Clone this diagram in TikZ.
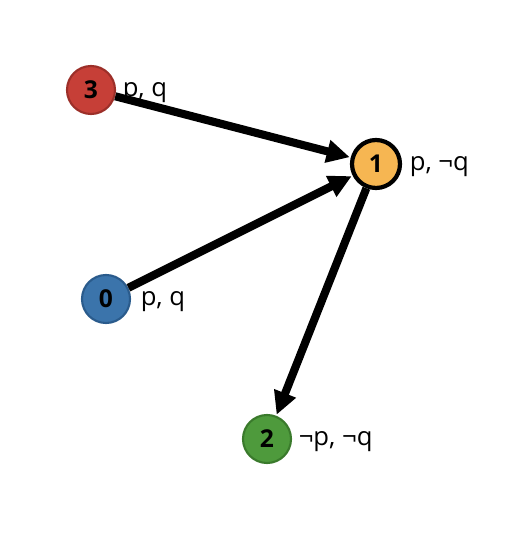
\documentclass[tikz,border=0pt]{standalone}
\usepackage{fontspec}
\setmainfont{Open Sans}
\usepackage{xcolor}
\usepackage{tikz}
\usetikzlibrary{arrows.meta,positioning}

\definecolor{wred}{HTML}{C63F37}
\definecolor{wredd}{HTML}{9C2F29}
\definecolor{worange}{HTML}{F6B652}
\definecolor{wblue}{HTML}{3B74AB}
\definecolor{wblued}{HTML}{2A5B8C}
\definecolor{wgreen}{HTML}{4E9A3C}
\definecolor{wgreend}{HTML}{3A7A2C}

\begin{document}
\begin{tikzpicture}[
    font=\fontsize{7.3}{8}\selectfont,
    >={Triangle[length=2.3mm, width=2.2mm]},
    world/.style={circle, minimum size=4.8mm, inner sep=0pt, line width=0.6pt,
                  font=\fontsize{7}{8}\selectfont\bfseries},
    wred/.style={world, fill=wred, draw=wredd},
    wcur/.style={world, fill=worange, draw=black, line width=1.2pt},
    wblue/.style={world, fill=wblue, draw=wblued},
    wgreen/.style={world, fill=wgreen, draw=wgreend},
    val/.style={inner sep=0pt, anchor=west, yshift=-0.03cm},
    edge/.style={->, line width=2.3pt, shorten >=0.3pt}
]
\useasboundingbox (0,0) rectangle (5.28,5.34);

% --- Worlds ---
\node[wred]   (w3) at (0.91,4.44) {3};
\node[wcur]   (w1) at (3.76,3.70) {1};
\node[wblue]  (w0) at (1.06,2.35) {0};
\node[wgreen] (w2) at (2.67,0.95) {2};

% Valuations
\node[val, right=0.06 of w3] (v3) {p, q};
\node[val, right=0.07 of w1] (v1) {p, ¬q};
\node[val, right=0.09 of w0] (v0) {p, q};
\node[val, right=0.06 of w2] (v2) {¬p, ¬q};

% --- Accessibility ---
\draw[edge] (w3) -- (w1);
\draw[edge] (w0) -- (w1);
\draw[edge] (w1) -- (w2);

\end{tikzpicture}
\end{document}
